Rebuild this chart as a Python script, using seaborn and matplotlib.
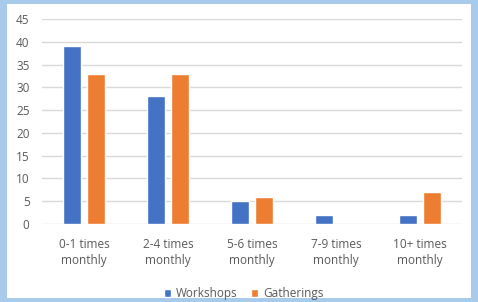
import numpy as np
import pandas as pd
import seaborn as sns
from matplotlib import pyplot as plt
from matplotlib.patches import Rectangle

# data
categories = ["0-1 times\nmonthly", "2-4 times\nmonthly", "5-6 times\nmonthly",
              "7-9 times\nmonthly", "10+ times\nmonthly"]
workshops = [39, 28, 5, 2, 2]
gatherings = [33, 33, 6, 0, 7]
series = ["Workshops", "Gatherings"]
colors = ["#4472C4", "#ED7D31"]

df = pd.DataFrame({
    "cat": categories * 2,
    "val": workshops + gatherings,
    "series": [series[0]] * len(categories) + [series[1]] * len(categories),
})

sns.set_theme(style="white")
plt.rcParams["font.family"] = ["Open Sans", "DejaVu Sans"]
txt = "#595959"

fig = plt.figure(figsize=(4.78, 3.02), dpi=100)
fig.patch.set_facecolor("#A9CBEB")
fig.patches.append(Rectangle((7 / 478, 4 / 302), 464 / 478, 294 / 302,
                             transform=fig.transFigure, facecolor="white",
                             edgecolor="none", zorder=-10))

ax = fig.add_axes([42 / 478, 1 - 224 / 302, 420 / 478, 205 / 302])
ax.set_facecolor("none")
sns.barplot(data=df, x="cat", y="val", hue="series", palette=colors,
            width=0.57, gap=0.25, ax=ax, legend=True, saturation=1)

ax.set_ylim(0, 45)
ax.set_yticks(range(0, 46, 5))
ax.yaxis.grid(True, color="#D9D9D9", linewidth=1)
ax.set_axisbelow(True)
for s in ax.spines.values():
    s.set_visible(False)
ax.set_xlabel("")
ax.set_ylabel("")
ax.tick_params(axis="both", length=0, labelsize=8.5, colors=txt)
ax.tick_params(axis="y", pad=9)
ax.tick_params(axis="x", pad=10)
for lab in ax.get_xticklabels():
    lab.set_linespacing(1.3)

ax.legend(loc="center", bbox_to_anchor=(0.48, -0.34), ncol=2, frameon=False,
          fontsize=8.5, labelcolor=txt, handlelength=0.6, handleheight=0.6,
          columnspacing=1.2, handletextpad=0.4)

fig.savefig("out.png", dpi=100)
